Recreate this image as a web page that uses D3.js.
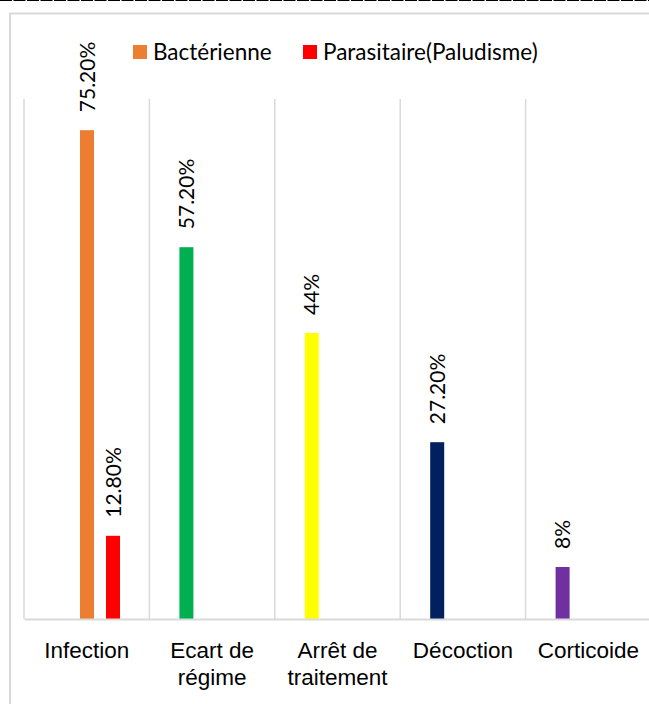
<!DOCTYPE html>
<html>
<head>
<meta charset="utf-8">
<script src="https://cdn.jsdelivr.net/npm/d3@7"></script>
<style>
  body { margin: 0; background: #fff; }
  svg { display: block; font-family: Lato, "Open Sans", sans-serif; }
</style>
</head>
<body>
<div id="chart"></div>
<script>
var w = 649;
var h = 704;

// data
var categories = ["Infection", "Ecart de régime", "Arrêt de traitement", "Décoction", "Corticoide"];
var tickLines = [["Infection"], ["Ecart de", "régime"], ["Arrêt de", "traitement"], ["Décoction"], ["Corticoide"]];
var slots = ["Autre", "Bactérienne", "Parasitaire(Paludisme)"];
var autre = [null, 57.2, 44, 27.2, 8];
var bacterienne = [75.2, null, null, null, null];
var parasitaire = [12.8, null, null, null, null];
var autreColors = [null, "#00b050", "#ffff00", "#002060", "#7030a0"];
var legendNames = ["Bactérienne", "Parasitaire(Paludisme)"];
var legendColors = ["#ed7d31", "#ff0000"];

var bars = [];
categories.forEach(function(c, i) {
    if (autre[i] != null) bars.push({cat: c, slot: "Autre", value: autre[i], color: autreColors[i]});
    if (bacterienne[i] != null) bars.push({cat: c, slot: "Bactérienne", value: bacterienne[i], color: legendColors[0]});
    if (parasitaire[i] != null) bars.push({cat: c, slot: "Parasitaire(Paludisme)", value: parasitaire[i], color: legendColors[1]});
});

function fmt(v) {
    return (Math.round(v) === v ? v : v.toFixed(2)) + "%";
}

var svg = d3.select("#chart")
    .append("svg")
    .attr("width", w)
    .attr("height", h);

// dashed rule on top and chart border
svg.append("line")
    .attr("x1", 0).attr("x2", w)
    .attr("y1", 0.5).attr("y2", 0.5)
    .attr("stroke", "#000")
    .attr("stroke-width", 1)
    .attr("stroke-dasharray", "12,1.5");

svg.append("rect")
    .attr("x", 10).attr("y", 13.5)
    .attr("width", w + 20).attr("height", h)
    .attr("fill", "none")
    .attr("stroke", "#d9d9d9")
    .attr("stroke-width", 2);

var x = d3.scaleBand()
    .domain(categories)
    .range([24, 651]);

var xs = d3.scaleBand()
    .domain(slots)
    .range([24, 102])
    .paddingInner(12 / 26)
    .paddingOuter(6 / 26);

var y = d3.scaleLinear()
    .domain([0, 80])
    .range([619, 99]);

// vertical grid lines between categories
svg.selectAll("line.grid")
    .data(categories.concat(["end"]))
    .enter()
    .append("line")
    .attr("class", "grid")
    .attr("x1", function(d, i) { return 24 + i * x.step(); })
    .attr("x2", function(d, i) { return 24 + i * x.step(); })
    .attr("y1", y(80))
    .attr("y2", y(0))
    .attr("stroke", "#d9d9d9")
    .attr("stroke-width", 1.5);

svg.selectAll("rect.bar")
    .data(bars)
    .enter()
    .append("rect")
    .attr("class", "bar")
    .attr("x", function(d) { return x(d.cat) + xs(d.slot); })
    .attr("y", function(d) { return y(d.value); })
    .attr("width", xs.bandwidth())
    .attr("height", function(d) { return y(0) - y(d.value); })
    .attr("fill", function(d) { return d.color; });

// value labels, rotated
svg.selectAll("text.val")
    .data(bars)
    .enter()
    .append("text")
    .attr("class", "val")
    .attr("transform", function(d) {
        var cx = x(d.cat) + xs(d.slot) + xs.bandwidth() / 2;
        return "translate(" + cx + "," + (y(d.value) - 18) + ") rotate(-90)";
    })
    .attr("dy", "0.36em")
    .attr("font-size", 21)
    .attr("fill", "#000")
    .text(function(d) { return fmt(d.value); });

// x axis
var xAxis = svg.append("g")
    .attr("transform", "translate(0," + y(0) + ")")
    .call(d3.axisBottom(x).tickSize(0).tickFormat(""));
xAxis.select(".domain").attr("stroke", "#d9d9d9").attr("stroke-width", 2);

xAxis.selectAll(".tick")
    .append("text")
    .attr("text-anchor", "middle")
    .attr("font-size", 22.5)
    .attr("fill", "#000")
    .selectAll("tspan")
    .data(function(d) { return tickLines[categories.indexOf(d)]; })
    .enter()
    .append("tspan")
    .attr("x", 0)
    .attr("y", function(d, i) { return 39 + i * 27; })
    .text(function(d) { return d; });

// legend
var legend = svg.append("g");
var legendX = [133, 303];
legendNames.forEach(function(n, i) {
    legend.append("rect")
        .attr("x", legendX[i]).attr("y", 45)
        .attr("width", 14).attr("height", 14)
        .attr("fill", legendColors[i]);
    legend.append("text")
        .attr("x", legendX[i] + 20).attr("y", 59.5)
        .attr("font-size", 22.5)
        .attr("fill", "#000")
        .text(n);
});
</script>
</body>
</html>
